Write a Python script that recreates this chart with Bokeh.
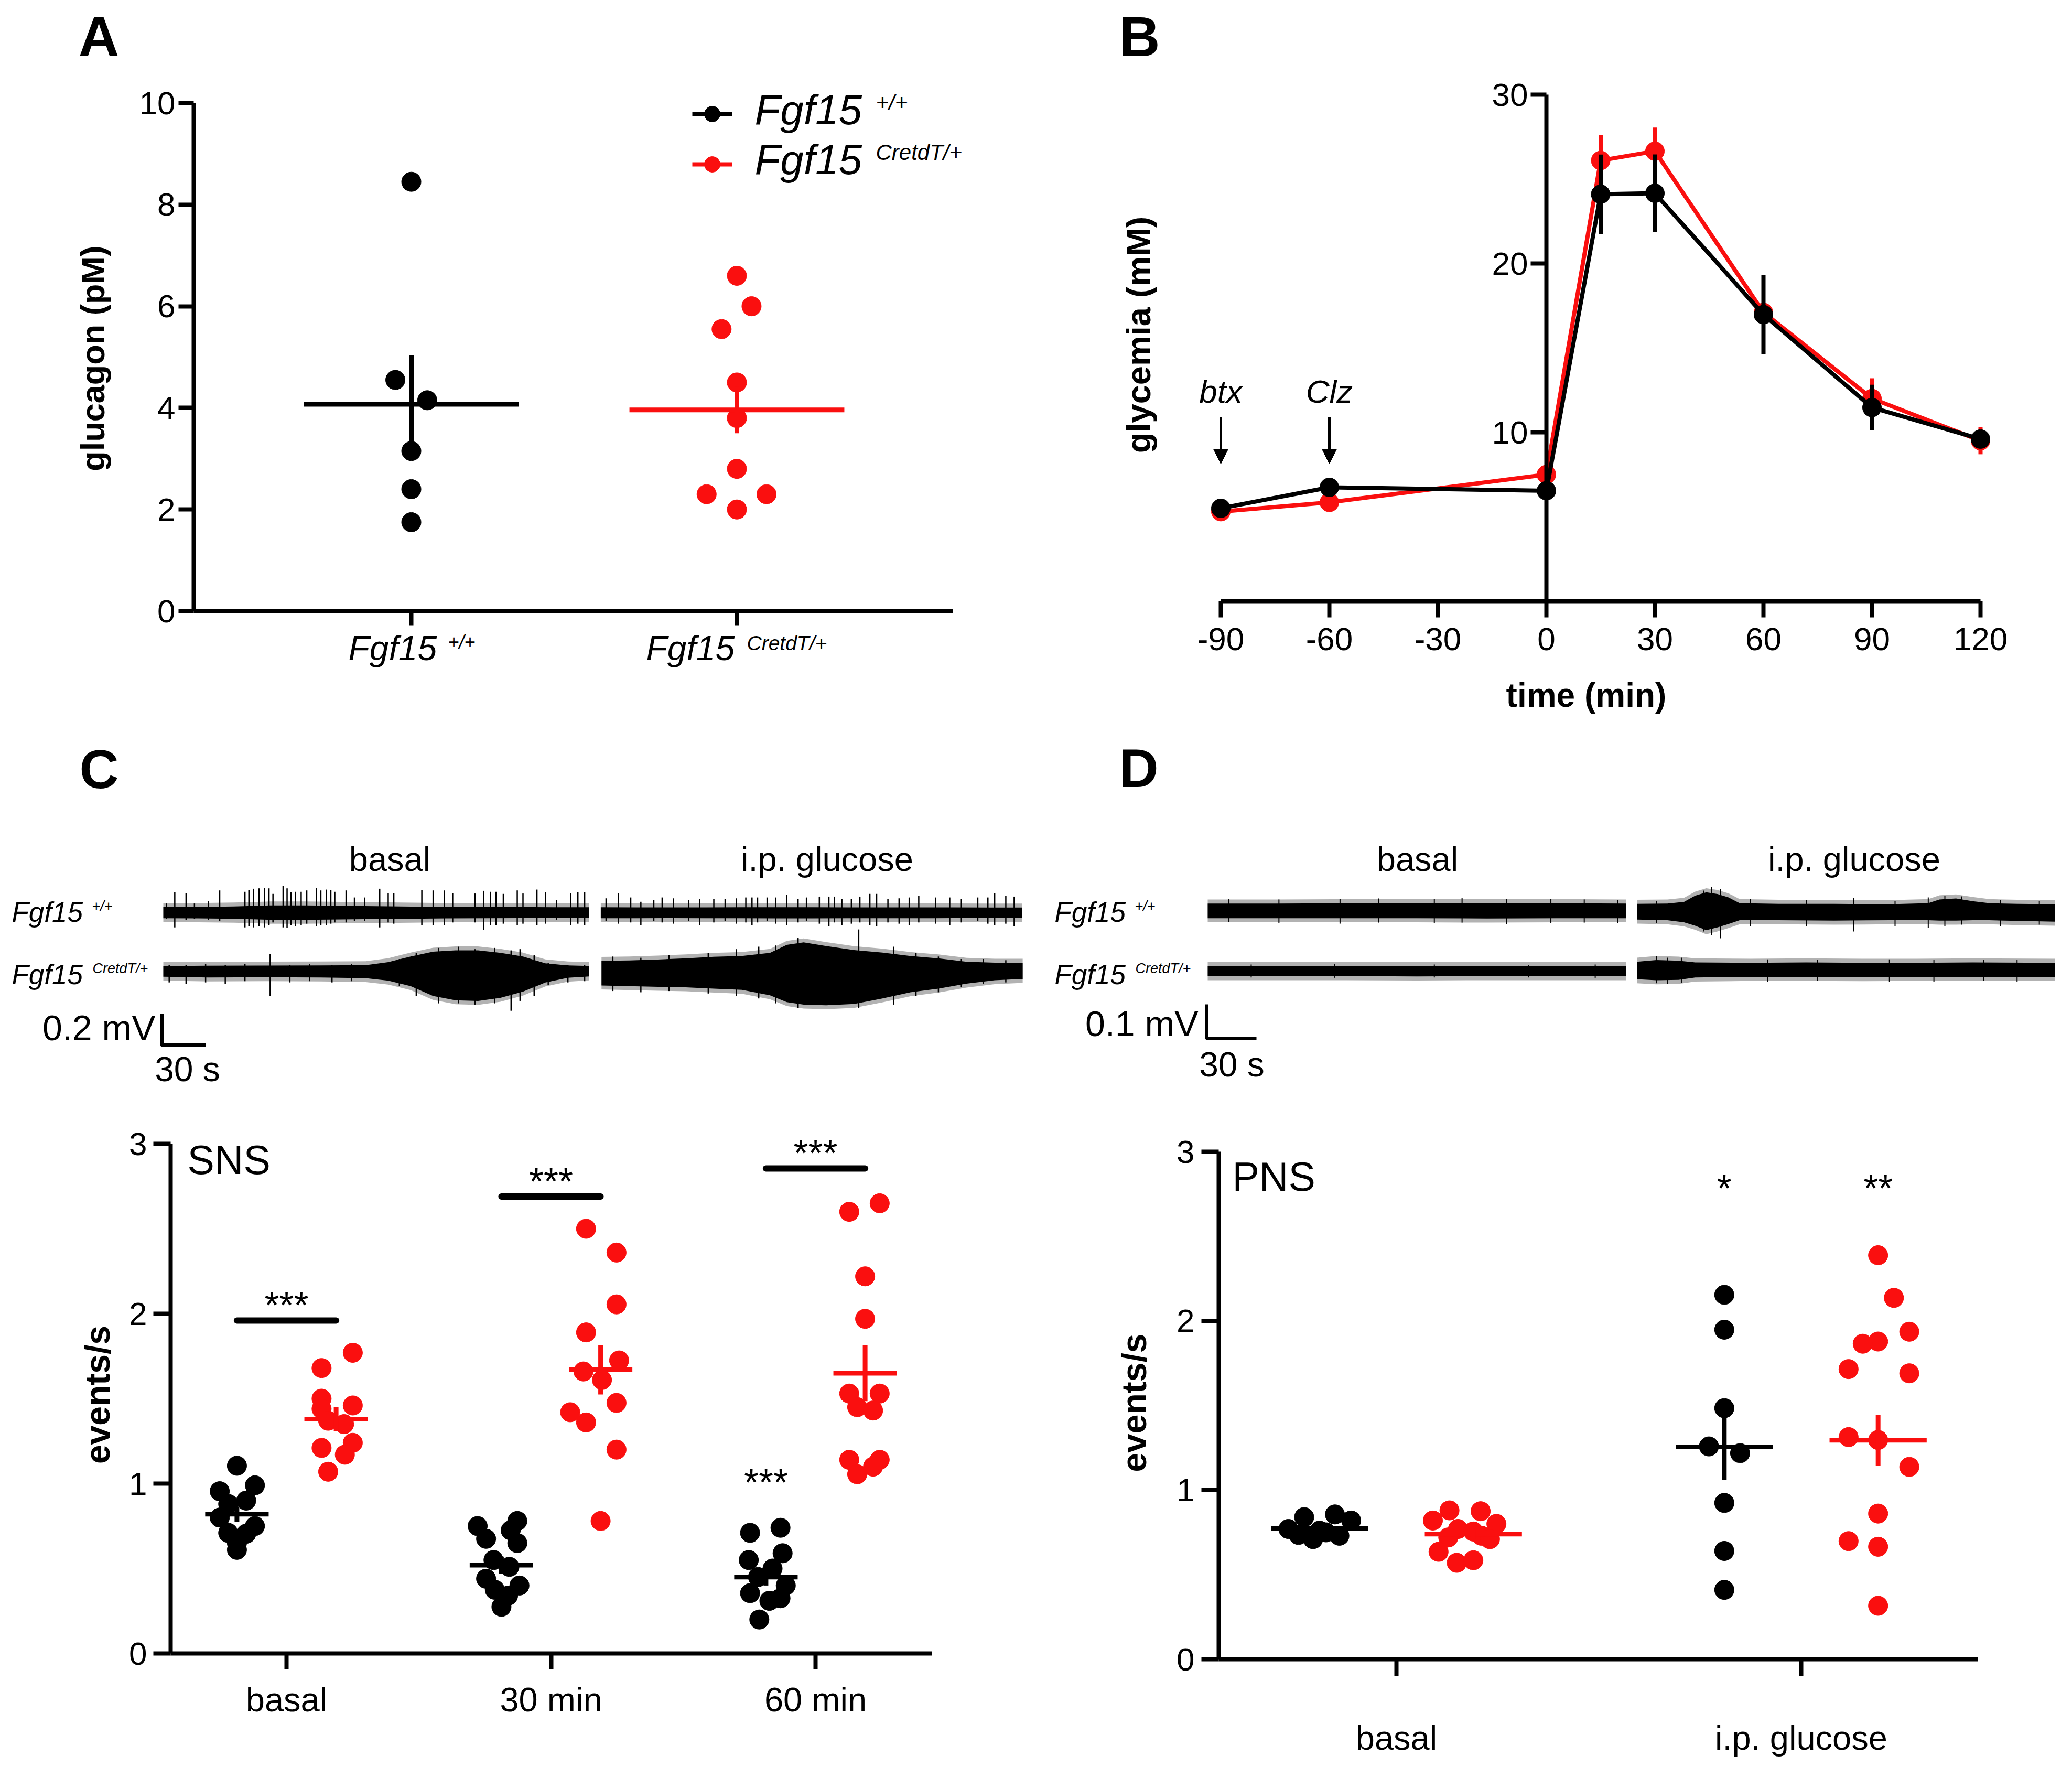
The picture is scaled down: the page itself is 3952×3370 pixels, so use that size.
import numpy as np
from types import SimpleNamespace
from bokeh.plotting import figure
from bokeh.layouts import column, row
from bokeh.models import Range1d, Label, Arrow, NormalHead, FixedTicker
from bokeh.embed import file_html
from bokeh.resources import INLINE

FONT = "Liberation Sans"
BLK = "#000000"
RED = "#FA0F0F"

# ======================= DATA =======================
# ---- Panel A : plasma glucagon ----
A_yticks = [0, 2, 4, 6, 8, 10]
A_wt = [8.45, 4.55, 4.15, 3.15, 2.40, 1.75]
A_wt_dx = [0, -0.049, 0.049, 0, 0, 0]
A_cre = [6.60, 6.00, 5.55, 4.50, 3.80, 2.80, 2.30, 2.30, 2.00]
A_cre_dx = [0, 0.045, -0.047, 0, 0, 0, -0.093, 0.091, 0]
A_mean = [4.07, 3.96]
A_sem = [0.97, 0.46]

# ---- Panel B : glycemia time course ----
B_xticks = [-90, -60, -30, 0, 30, 60, 90, 120]
B_yticks = [10, 20, 30]
B_t = [-90, -60, 0, 15, 30, 60, 90, 120]
B_wt = [5.50, 6.74, 6.54, 24.10, 24.16, 16.97, 11.47, 9.60]
B_wt_err = [0.20, 0.25, 0.30, 2.35, 2.30, 2.35, 1.35, 0.50]
B_cre = [5.30, 5.85, 7.50, 26.10, 26.65, 17.10, 12.00, 9.50]
B_cre_err = [0.30, 0.30, 0.30, 1.50, 1.40, 0.50, 1.20, 0.80]
B_arrow_t = [-90, -60]
B_arrow_text = ["btx", "Clz"]

# ---- Panel C traces (SNS), readings in mV, times in s ----
C_GAIN = 235.0 / 300.0   # readings were taken at 235 px/mV; the 0.2 mV bar gives 300 px/mV
c1b_t = [0, 24, 48, 72, 97, 121, 145, 169, 193, 218, 242, 266, 290]
c1b_up = [0.046, 0.046, 0.050, 0.058, 0.058, 0.055, 0.052, 0.049, 0.046, 0.045, 0.045, 0.044, 0.044]
c1b_dn = [0.046, 0.047, 0.050, 0.058, 0.058, 0.055, 0.052, 0.050, 0.047, 0.046, 0.045, 0.045, 0.045]
c1g_t = [298, 322, 346, 370, 394, 418, 442, 466, 490, 514, 538, 562, 585]
c1g_up = [0.044, 0.043, 0.043, 0.043, 0.044, 0.044, 0.044, 0.043, 0.043, 0.043, 0.043, 0.042, 0.042]
c1g_dn = [0.046, 0.046, 0.045, 0.046, 0.046, 0.047, 0.047, 0.046, 0.046, 0.046, 0.045, 0.045, 0.045]
c2b_t = [0, 30.8, 69, 107.3, 137.9, 153.2, 168.5, 183.8, 199.1, 214.4, 229.7, 245, 260.3, 275.6, 290]
c2b_up = [0.043, 0.046, 0.047, 0.048, 0.050, 0.075, 0.120, 0.160, 0.170, 0.170, 0.150, 0.120, 0.065, 0.048, 0.044]
c2b_dn = [0.044, 0.050, 0.048, 0.050, 0.055, 0.075, 0.120, 0.200, 0.235, 0.240, 0.215, 0.165, 0.090, 0.052, 0.042]
c2g_t = [298.5, 317.6, 336.8, 355.9, 375, 394.1, 413.3, 424.7, 436.2, 451.5, 470.6, 489.8, 508.9, 528, 547.1, 566.3, 585.4]
c2g_up = [0.085, 0.088, 0.096, 0.105, 0.118, 0.125, 0.150, 0.215, 0.235, 0.205, 0.172, 0.152, 0.125, 0.105, 0.078, 0.070, 0.070]
c2g_dn = [0.115, 0.120, 0.125, 0.130, 0.140, 0.150, 0.195, 0.250, 0.270, 0.275, 0.265, 0.220, 0.170, 0.140, 0.100, 0.072, 0.062]
c1b_spk_t = [2.1, 7.8, 15.5, 21.2, 30.8, 38.4, 55.6, 58.3, 61.4, 65.2, 69.0, 72.0, 74.7, 81.6, 84.3, 87.0, 90.0,
             93.9, 97.7, 104.2, 107.3, 111.1, 114.1, 116.8, 124.5, 130.2, 137.1, 147.4, 153.2, 157.0, 176.1,
             183.8, 191.4, 197.1, 212.4, 218.2, 222.8, 226.6, 231.6, 241.1, 245.0, 254.5, 260.3, 267.9, 277.5,
             282.4, 287.0]
c1b_spk_up = [0.074, 0.166, 0.159, 0.074, 0.095, 0.180, 0.169, 0.183, 0.194, 0.197, 0.200, 0.197, 0.152, 0.216,
              0.197, 0.166, 0.169, 0.169, 0.180, 0.200, 0.180, 0.187, 0.183, 0.169, 0.180, 0.123, 0.123, 0.194,
              0.159, 0.159, 0.183, 0.180, 0.180, 0.159, 0.155, 0.177, 0.169, 0.169, 0.152, 0.180, 0.155, 0.187,
              0.166, 0.102, 0.159, 0.166, 0.166]
c1b_spk_dn = [0.05, 0.12, 0.06, 0.05, 0.06, 0.07, 0.12, 0.11, 0.12, 0.11, 0.12, 0.10, 0.08, 0.12, 0.125, 0.10,
              0.11, 0.10, 0.09, 0.11, 0.10, 0.10, 0.09, 0.08, 0.08, 0.07, 0.07, 0.12, 0.08, 0.09, 0.10, 0.10,
              0.10, 0.08, 0.08, 0.14, 0.10, 0.10, 0.09, 0.10, 0.09, 0.10, 0.09, 0.06, 0.10, 0.09, 0.10]
c1g_spk_t = [301.6, 310.0, 318.4, 325.3, 334.1, 339.8, 347.5, 357.8, 365.4, 375.0, 382.7, 390.3, 396.8, 401.0,
             404.8, 411.3, 417.1, 424.7, 432.4, 438.1, 446.9, 453.4, 457.2, 462.2, 468.7, 474.5, 481.3, 485.9,
             493.6, 501.2, 508.1, 514.6, 526.1, 535.7, 543.3, 554.8, 561.7, 566.3, 573.9, 579.6]
c1g_spk_up = [0.116, 0.159, 0.123, 0.088, 0.102, 0.123, 0.116, 0.102, 0.109, 0.109, 0.109, 0.116, 0.123, 0.123,
              0.123, 0.123, 0.123, 0.145, 0.109, 0.123, 0.130, 0.130, 0.130, 0.109, 0.109, 0.130, 0.152, 0.152,
              0.109, 0.116, 0.123, 0.138, 0.123, 0.123, 0.109, 0.123, 0.123, 0.159, 0.138, 0.130]
c1g_spk_dn = [0.07, 0.09, 0.08, 0.10, 0.07, 0.08, 0.09, 0.07, 0.10, 0.08, 0.07, 0.09, 0.08, 0.10, 0.08, 0.07,
              0.09, 0.10, 0.08, 0.07, 0.09, 0.11, 0.08, 0.10, 0.09, 0.08, 0.10, 0.11, 0.08, 0.09, 0.10, 0.08,
              0.09, 0.10, 0.08, 0.07, 0.09, 0.10, 0.09, 0.11]
c2b_spk_t = [4.0, 15.5, 28.8, 42.2, 55.6, 72.8, 86.2, 99.6, 114.9, 128.3, 160.8, 172.3, 187.6, 201.0, 212.4,
             225.8, 236.9, 243.0, 252.6, 262.2, 275.6, 287.0]
c2b_spk_up = [0.05, 0.05, 0.06, 0.05, 0.06, 0.142, 0.05, 0.06, 0.05, 0.06, 0.10, 0.15, 0.19, 0.20, 0.18, 0.19,
              0.17, 0.18, 0.13, 0.07, 0.05, 0.05]
c2b_spk_dn = [0.09, 0.10, 0.09, 0.10, 0.08, 0.20, 0.09, 0.08, 0.09, 0.08, 0.12, 0.20, 0.26, 0.26, 0.27, 0.26,
              0.32, 0.24, 0.20, 0.11, 0.09, 0.08]
c2g_spk_t = [306.2, 325.3, 344.4, 371.2, 390.3, 405.6, 417.1, 432.4, 473.7, 497.4, 512.7, 528.0, 543.3, 558.6, 573.9]
c2g_spk_up = [0.12, 0.11, 0.13, 0.15, 0.18, 0.20, 0.21, 0.27, 0.34, 0.20, 0.15, 0.12, 0.10, 0.10, 0.09]
c2g_spk_dn = [0.16, 0.17, 0.16, 0.18, 0.20, 0.22, 0.26, 0.30, 0.30, 0.27, 0.20, 0.17, 0.13, 0.10, 0.09]

# ---- Panel D traces (PNS), mV, s ----
d1b_t = [0, 42, 84, 126, 168, 210, 252]
d1b_up = [0.022, 0.022, 0.023, 0.023, 0.024, 0.023, 0.022]
d1b_dn = [0.021, 0.021, 0.021, 0.021, 0.022, 0.021, 0.021]
d1g_t = [258.5, 276.9, 286.9, 293.6, 300.3, 307, 313.7, 320.4, 343.8, 377.2, 410.6, 434, 440.7, 450.7, 460.8, 470.8, 487.5, 510.2]
d1g_up = [0.021, 0.022, 0.027, 0.045, 0.055, 0.050, 0.040, 0.023, 0.021, 0.021, 0.020, 0.023, 0.034, 0.037, 0.029, 0.023, 0.021, 0.020]
d1g_dn = [0.025, 0.027, 0.033, 0.043, 0.056, 0.048, 0.038, 0.027, 0.027, 0.028, 0.027, 0.027, 0.028, 0.028, 0.027, 0.027, 0.029, 0.031]
d2b_t = [0, 42, 84, 126, 168, 210, 252]
d2b_up = [0.015, 0.015, 0.016, 0.015, 0.016, 0.015, 0.015]
d2b_dn = [0.014, 0.014, 0.014, 0.015, 0.014, 0.014, 0.014]
d2g_t = [258.5, 270.2, 283.6, 293.6, 327, 360.5, 393.9, 427.3, 460.8, 510.2]
d2g_up = [0.028, 0.033, 0.031, 0.026, 0.025, 0.026, 0.025, 0.025, 0.026, 0.025]
d2g_dn = [0.023, 0.026, 0.025, 0.018, 0.016, 0.016, 0.017, 0.016, 0.016, 0.016]
d1b_spk_t = [12.8, 42.9, 79.7, 103.1, 136.5, 153.2, 180.0, 206.7, 226.8, 246.8]
d1b_spk_up = [0.035, 0.034, 0.036, 0.037, 0.035, 0.038, 0.036, 0.035, 0.034, 0.033]
d1b_spk_dn = [0.033, 0.035, 0.037, 0.034, 0.036, 0.034, 0.038, 0.035, 0.034, 0.036]
d1g_spk_t = [270.2, 298.6, 303.6, 308.7, 327.0, 360.5, 388.9, 414.0, 434.0, 444.0, 454.1, 477.5, 500.9]
d1g_spk_up = [0.030, 0.060, 0.070, 0.065, 0.035, 0.033, 0.038, 0.030, 0.040, 0.045, 0.043, 0.032, 0.030]
d1g_spk_dn = [0.035, 0.060, 0.070, 0.080, 0.045, 0.045, 0.060, 0.045, 0.050, 0.045, 0.040, 0.045, 0.040]
d2b_spk_t = [26.2, 76.3, 136.5, 193.3, 233.4]
d2b_spk_up = [0.020, 0.021, 0.020, 0.019, 0.020]
d2b_spk_dn = [0.018, 0.019, 0.018, 0.018, 0.019]
d2g_spk_t = [270.2, 276.9, 285.3, 337.1, 367.2, 410.6, 437.4, 467.5, 487.5]
d2g_spk_up = [0.045, 0.040, 0.040, 0.035, 0.034, 0.035, 0.033, 0.034, 0.033]
d2g_spk_dn = [0.035, 0.037, 0.034, 0.030, 0.028, 0.030, 0.030, 0.028, 0.030]

# ---- Panel C bottom : SNS firing ----
sns_cats = ["basal", "30 min", "60 min"]
sns_yticks = [0, 1, 2, 3]
sns_wt_basal = [1.105, 0.99, 0.955, 0.90, 0.88, 0.80, 0.75, 0.71, 0.705, 0.65, 0.61]
sns_wt_basal_dx = [0, 0.068, -0.065, 0.035, -0.033, -0.065, 0.068, -0.033, 0.035, 0, 0]
sns_cre_basal = [1.77, 1.68, 1.50, 1.46, 1.44, 1.37, 1.35, 1.24, 1.21, 1.17, 1.07]
sns_cre_basal_dx = [0.063, -0.055, -0.055, 0.063, -0.055, -0.03, 0.03, 0.063, -0.055, 0.033, -0.03]
sns_wt_30 = [0.78, 0.75, 0.725, 0.675, 0.65, 0.55, 0.51, 0.44, 0.40, 0.375, 0.34, 0.275]
sns_wt_30_dx = [0.06, -0.09, 0.035, -0.058, 0.06, -0.03, 0.03, -0.058, 0.068, -0.025, 0.025, 0]
sns_cre_30 = [2.50, 2.36, 2.055, 1.89, 1.725, 1.66, 1.61, 1.475, 1.42, 1.36, 1.20, 0.78]
sns_cre_30_dx = [-0.055, 0.06, 0.06, -0.055, 0.07, -0.065, 0.005, 0.06, -0.115, -0.055, 0.06, 0]
sns_wt_60 = [0.74, 0.71, 0.59, 0.55, 0.50, 0.45, 0.40, 0.355, 0.325, 0.31, 0.20]
sns_wt_60_dx = [0.055, -0.06, 0.063, -0.065, 0.025, -0.03, 0.075, -0.06, 0.055, 0.013, -0.025]
sns_cre_60 = [2.65, 2.60, 2.22, 1.97, 1.53, 1.53, 1.45, 1.43, 1.14, 1.14, 1.10, 1.055]
sns_cre_60_dx = [0.055, -0.06, 0, 0, -0.06, 0.055, -0.03, 0.03, -0.06, 0.055, 0.03, -0.03]
sns_wt_mean = [0.82, 0.52, 0.45]
sns_wt_sem = [0.045, 0.05, 0.05]
sns_cre_mean = [1.38, 1.67, 1.65]
sns_cre_sem = [0.07, 0.145, 0.165]
sns_sig_y = [1.96, 2.69, 2.855]
sns_sig_text = ["***", "***", "***"]
sns_wt60_star_y = 0.93

# ---- Panel D bottom : PNS firing ----
pns_cats = ["basal", "i.p. glucose"]
pns_yticks = [0, 1, 2, 3]
pns_wt_basal = [0.856, 0.84, 0.82, 0.77, 0.76, 0.75, 0.735, 0.73, 0.71]
pns_wt_basal_dx = [0.038, -0.038, 0.078, -0.077, 0, 0.016, -0.052, 0.049, -0.016]
pns_cre_basal = [0.88, 0.875, 0.82, 0.80, 0.77, 0.755, 0.73, 0.72, 0.71, 0.635, 0.57, 0.585]
pns_cre_basal_dx = [-0.059, 0.018, -0.1, 0.057, -0.038, 0, 0.02, -0.062, 0.041, -0.086, -0.041, 0]
pns_wt_glu = [2.154, 1.948, 1.484, 1.258, 1.218, 0.924, 0.64, 0.41]
pns_wt_glu_dx = [0, 0, 0, -0.038, 0.039, 0, 0, 0]
pns_cre_glu = [2.388, 2.136, 1.936, 1.878, 1.865, 1.715, 1.69, 1.313, 1.296, 1.137, 0.861, 0.698, 0.665, 0.316]
pns_cre_glu_dx = [0, 0.039, 0.077, 0, -0.038, -0.073, 0.077, -0.073, 0, 0.077, 0, -0.073, 0, 0]
pns_wt_mean = [0.775, 1.255]
pns_wt_sem = [0.02, 0.195]
pns_cre_mean = [0.74, 1.295]
pns_cre_sem = [0.03, 0.15]
pns_star_y = 2.706
pns_star_text = ["*", "**"]

# ======================= HELPERS =======================
def make_fig(origin, size, frame, xmap, ymap, axes=True):
    """frame: page px (left, right, top, bottom); xmap/ymap: two (value, page px) anchors."""
    ox, oy = origin
    w, h = size
    fl, fr, ft, fb = frame
    (xv0, xp0), (xv1, xp1) = xmap
    (yv0, yp0), (yv1, yp1) = ymap
    sx = (xp1 - xp0) / (xv1 - xv0)
    sy = (yp1 - yp0) / (yv1 - yv0)
    xr = (xv0 + (fl - xp0) / sx, xv0 + (fr - xp0) / sx)
    yr = (yv0 + (fb - yp0) / sy, yv0 + (ft - yp0) / sy)
    kw = dict(width=w, height=h, x_range=Range1d(*xr), y_range=Range1d(*yr),
              output_backend="svg", toolbar_location=None, title=None,
              min_border_left=fl - ox, min_border_right=ox + w - fr,
              min_border_top=ft - oy, min_border_bottom=oy + h - fb,
              outline_line_color=None, background_fill_color="white",
              border_fill_color="white", frame_align=False)
    if not axes:
        kw.update(x_axis_location=None, y_axis_location=None)
    p = figure(**kw)
    p.grid.visible = False
    m = SimpleNamespace(
        p=p,
        X=lambda px: xv0 + (px - xp0) / sx,      # page px -> data
        Y=lambda py: yv0 + (py - yp0) / sy,
        PY=lambda y: yp0 + (y - yv0) * sy,       # data -> page px
    )
    return m


def style_axis(ax, ticks, tick_out, standoff, size=62, lw=8):
    ax.ticker = FixedTicker(ticks=ticks)
    ax.axis_line_width = lw
    ax.axis_line_color = "black"
    ax.major_tick_line_width = lw
    ax.major_tick_line_color = "black"
    ax.major_tick_out = tick_out
    ax.major_tick_in = 0
    ax.minor_tick_line_color = None
    ax.major_label_text_font = FONT
    ax.major_label_text_font_size = f"{size}px"
    ax.major_label_text_color = "black"
    ax.major_label_standoff = standoff


def axis_title(ax, text, size, standoff):
    ax.axis_label = text
    ax.axis_label_text_font = FONT
    ax.axis_label_text_font_size = f"{size}px"
    ax.axis_label_text_font_style = "bold"
    ax.axis_label_text_color = "black"
    ax.axis_label_standoff = standoff


def label(m, px, py, text, size, style="normal", align="left", rotate=False):
    """Text whose baseline sits at page px (px, py); rotated texts are centred on (px, py)."""
    if rotate:
        yc, ang = py, np.pi / 2
    else:
        yc, ang = py - 0.35 * size, 0.0
    m.p.add_layout(Label(x=m.X(px), y=m.Y(yc), text=text, text_font=FONT,
                         text_font_size=f"{size}px", text_font_style=style,
                         text_align="center" if rotate else align, text_baseline="middle",
                         angle=ang, text_color="black"))


def dlabel(m, x, y, text, size, dy_px=0, style="normal"):
    """Centred text whose baseline sits dy_px above the data point (x, y)."""
    py = m.PY(y) - dy_px - 0.35 * size
    m.p.add_layout(Label(x=x, y=m.Y(py), text=text, text_font=FONT,
                         text_font_size=f"{size}px", text_font_style=style,
                         text_align="center", text_baseline="middle", text_color="black"))


def dots(p, xc, vals, dx, color, size=37):
    p.scatter(x=[xc + d for d in dx], y=vals, size=size, fill_color=color, line_color=color)


def meansem(p, xc, mval, s, half, color, lw=9):
    p.segment(x0=[xc - half], y0=[mval], x1=[xc + half], y1=[mval], line_width=lw, line_color=color)
    p.segment(x0=[xc], y0=[mval - s], x1=[xc], y1=[mval + s], line_width=lw, line_color=color)


def trace(p, t, up, dn, base, gain=1.0, fuzz=0.0):
    up = np.asarray(up) * gain
    dn = np.asarray(dn) * gain
    if fuzz > 0:   # faint halo standing for the dense small noise deflections
        p.varea(x=t, y1=base - dn - fuzz, y2=base + up + fuzz, fill_color="black", fill_alpha=0.3)
    p.varea(x=t, y1=base - dn, y2=base + up, fill_color="black")


def spikes(p, t, up, dn, base, gain=1.0, lw=2.5):
    up = np.asarray(up) * gain
    dn = np.asarray(dn) * gain
    p.segment(x0=t, y0=base - dn, x1=t, y1=base + up, line_color="black", line_width=lw)


# ======================= PANEL A =======================
mA = make_fig((0, 0), (1976, 1400), (130, 1976, 0, 1300), ((1, 784), (2, 1405)), ((0, 1165), (10, 196)))
pA = mA.p
ya = pA.yaxis[0]
style_axis(ya, A_yticks, 29, 6)
ya.fixed_location = mA.X(369)
ya.bounds = (0, 10)
xa = pA.xaxis[0]
style_axis(xa, [1, 2], 27, 6, size=1)
xa.major_label_overrides = {1: "", 2: ""}
xa.fixed_location = 0
xa.bounds = (mA.X(369), mA.X(1817))

dots(pA, 1, A_wt, A_wt_dx, BLK)
dots(pA, 2, A_cre, A_cre_dx, RED)
meansem(pA, 1, A_mean[0], A_sem[0], 0.33, BLK)
meansem(pA, 2, A_mean[1], A_sem[1], 0.33, RED)

label(mA, 149, 107, "A", 108, "bold")
label(mA, 176, 683, "glucagon (pM)", 63, "bold", rotate=True)
label(mA, 664, 1259, "Fgf15", 66, "italic")
label(mA, 854, 1237, "+/+", 36, "italic")
label(mA, 1232, 1259, "Fgf15", 66, "italic")
label(mA, 1424, 1240, "CretdT/+", 39, "italic")
# legend
for ly, col, sup, sb, tb in [(217, BLK, "+/+", 210, 237), (313, RED, "CretdT/+", 305, 332)]:
    pA.line(x=[mA.X(1320), mA.X(1396)], y=[mA.Y(ly)] * 2, line_width=8, line_color=col)
    pA.scatter(x=[mA.X(1358)], y=[mA.Y(ly)], size=30, fill_color=col, line_color=col)
    label(mA, 1439, tb, "Fgf15", 80, "italic")
    label(mA, 1670, sb, sup, 42, "italic")

# ======================= PANEL B =======================
mB = make_fig((1976, 0), (1968, 1400), (2106, 3944, 0, 1146),
              ((0, 2949), (120, 2949 + 120 * 6.9)), ((0, 1146), (30, 180)))
pB = mB.p
yb = pB.yaxis[0]
style_axis(yb, B_yticks, 30, 5)
yb.fixed_location = 0
yb.bounds = (0, 30)
xb = pB.xaxis[0]
style_axis(xb, B_xticks, 31, 20)
xb.major_label_overrides = {t: str(t) for t in B_xticks}
xb.bounds = (-90, 120)
axis_title(xb, "time (min)", 64, 47)

for vals, err, col in [(B_cre, B_cre_err, RED), (B_wt, B_wt_err, BLK)]:
    pB.line(x=B_t, y=vals, line_width=8, line_color=col)
    pB.segment(x0=B_t, y0=[v - e for v, e in zip(vals, err)], x1=B_t,
               y1=[v + e for v, e in zip(vals, err)], line_width=8, line_color=col)
    pB.scatter(x=B_t, y=vals, size=36, fill_color=col, line_color=col)

for t, txt in zip(B_arrow_t, B_arrow_text):
    pB.add_layout(Arrow(end=NormalHead(size=28, fill_color="black", line_color="black"),
                        x_start=t, y_start=mB.Y(795), x_end=t, y_end=mB.Y(884),
                        line_width=5, line_color="black"))
    dlabel(mB, t, mB.Y(768), txt, 62, style="italic")

label(mB, 2134, 107, "B", 108, "bold")
label(mB, 2171, 638, "glycemia (mM)", 65, "bold", rotate=True)

# ======================= PANEL C traces =======================
mCt = make_fig((0, 1400), (1976, 700), (0, 1976, 1400, 2100),
               ((0, 311), (30, 311 + 30 * 2.8)), ((0, 1740), (0.2, 1740 - 60)), axes=False)
pCt = mCt.p
c_row2 = mCt.Y(1852)
for t, u, d, base in [(c1b_t, c1b_up, c1b_dn, 0.0), (c1g_t, c1g_up, c1g_dn, 0.0),
                      (c2b_t, c2b_up, c2b_dn, c_row2), (c2g_t, c2g_up, c2g_dn, c_row2)]:
    trace(pCt, t, u, d, base, C_GAIN, fuzz=0.025)
for t, u, d, base in [(c1b_spk_t, c1b_spk_up, c1b_spk_dn, 0.0), (c1g_spk_t, c1g_spk_up, c1g_spk_dn, 0.0),
                      (c2b_spk_t, c2b_spk_up, c2b_spk_dn, c_row2), (c2g_spk_t, c2g_spk_up, c2g_spk_dn, c_row2)]:
    spikes(pCt, t, u, d, base, C_GAIN)
cx0, cy0 = mCt.X(308), mCt.Y(1993)
pCt.line(x=[cx0, cx0, cx0 + 30], y=[cy0 + 0.2, cy0, cy0], line_width=7, line_color="black")
label(mCt, 296, 1983, "0.2 mV", 68, align="right")
label(mCt, 357, 2062, "30 s", 66, align="center")
label(mCt, 151, 1503, "C", 104, "bold")
label(mCt, 743, 1661, "basal", 65, align="center")
label(mCt, 1577, 1661, "i.p. glucose", 65, align="center")
label(mCt, 22, 1758, "Fgf15", 53, "italic")
label(mCt, 175, 1737, "+/+", 27, "italic")
label(mCt, 22, 1877, "Fgf15", 53, "italic")
label(mCt, 176, 1856, "CretdT/+", 27, "italic")

# ======================= PANEL D traces =======================
mDt = make_fig((1976, 1400), (1968, 700), (1976, 3944, 1400, 2100),
               ((0, 2303), (30, 2303 + 95)), ((0, 1737), (0.1, 1737 - 65)), axes=False)
pDt = mDt.p
d_row2 = mDt.Y(1852)
for t, u, d, base in [(d1b_t, d1b_up, d1b_dn, 0.0), (d1g_t, d1g_up, d1g_dn, 0.0),
                      (d2b_t, d2b_up, d2b_dn, d_row2), (d2g_t, d2g_up, d2g_dn, d_row2)]:
    trace(pDt, t, u, d, base, fuzz=0.012)
for t, u, d, base in [(d1b_spk_t, d1b_spk_up, d1b_spk_dn, 0.0), (d1g_spk_t, d1g_spk_up, d1g_spk_dn, 0.0),
                      (d2b_spk_t, d2b_spk_up, d2b_spk_dn, d_row2), (d2g_spk_t, d2g_spk_up, d2g_spk_dn, d_row2)]:
    spikes(pDt, t, u, d, base, lw=2)
dx0, dy0 = mDt.X(2301), mDt.Y(1980)
pDt.line(x=[dx0, dx0, dx0 + 30], y=[dy0 + 0.1, dy0, dy0], line_width=7, line_color="black")
label(mDt, 2285, 1975, "0.1 mV", 68, align="right")
label(mDt, 2349, 2053, "30 s", 66, align="center")
label(mDt, 2134, 1501, "D", 104, "bold")
label(mDt, 2703, 1661, "basal", 65, align="center")
label(mDt, 3536, 1661, "i.p. glucose", 65, align="center")
label(mDt, 2011, 1758, "Fgf15", 53, "italic")
label(mDt, 2164, 1737, "+/+", 27, "italic")
label(mDt, 2011, 1877, "Fgf15", 53, "italic")
label(mDt, 2165, 1856, "CretdT/+", 27, "italic")

# ======================= PANEL C bottom (SNS) =======================
mCb = make_fig((0, 2100), (1976, 1262), (325, 1976, 2166, 3153),
               ((0, 546), (2, 546 + 2 * 504.5)), ((0, 3153), (3, 2181)))
pCb = mCb.p
yc = pCb.yaxis[0]
style_axis(yc, sns_yticks, 33, 12)
yc.bounds = (0, 3)
axis_title(yc, "events/s", 66, 20)
xc = pCb.xaxis[0]
style_axis(xc, [0, 1, 2], 30, 21, size=65)
xc.major_label_overrides = {i: c for i, c in enumerate(sns_cats)}
xc.bounds = (mCb.X(325), mCb.X(1777))

GOFF = 0.1875
sns_wt = [(sns_wt_basal, sns_wt_basal_dx), (sns_wt_30, sns_wt_30_dx), (sns_wt_60, sns_wt_60_dx)]
sns_cre = [(sns_cre_basal, sns_cre_basal_dx), (sns_cre_30, sns_cre_30_dx), (sns_cre_60, sns_cre_60_dx)]
for i in range(3):
    dots(pCb, i - GOFF, sns_wt[i][0], sns_wt[i][1], BLK)
    dots(pCb, i + GOFF, sns_cre[i][0], sns_cre[i][1], RED)
for i in range(3):
    meansem(pCb, i - GOFF, sns_wt_mean[i], sns_wt_sem[i], 0.12, BLK)
    meansem(pCb, i + GOFF, sns_cre_mean[i], sns_cre_sem[i], 0.12, RED)
    pCb.line(x=[i - GOFF, i + GOFF], y=[sns_sig_y[i]] * 2, line_width=12,
             line_color="black", line_cap="round")
    dlabel(mCb, i, sns_sig_y[i], sns_sig_text[i], 72, dy_px=4)
dlabel(mCb, 2 - GOFF, sns_wt60_star_y, "***", 72)
label(mCb, 357, 2238, "SNS", 77)

# ======================= PANEL D bottom (PNS) =======================
mDb = make_fig((1976, 2100), (1968, 1262), (2324, 3944, 2186, 3164),
               ((0, 2663), (1, 2663 + 772)), ((0, 3164), (3, 2196)))
pDb = mDb.p
yd = pDb.yaxis[0]
style_axis(yd, pns_yticks, 33, 13)
yd.bounds = (0, 3)
axis_title(yd, "events/s", 66, 41)
xd = pDb.xaxis[0]
style_axis(xd, [0, 1], 32, 81, size=65)
xd.major_label_overrides = {i: c for i, c in enumerate(pns_cats)}
xd.bounds = (mDb.X(2324), mDb.X(3772))

POFF = 0.19
pns_wt = [(pns_wt_basal, pns_wt_basal_dx), (pns_wt_glu, pns_wt_glu_dx)]
pns_cre = [(pns_cre_basal, pns_cre_basal_dx), (pns_cre_glu, pns_cre_glu_dx)]
for i in range(2):
    dots(pDb, i - POFF, pns_wt[i][0], pns_wt[i][1], BLK)
    dots(pDb, i + POFF, pns_cre[i][0], pns_cre[i][1], RED)
for i in range(2):
    meansem(pDb, i - POFF, pns_wt_mean[i], pns_wt_sem[i], 0.12, BLK)
    meansem(pDb, i + POFF, pns_cre_mean[i], pns_cre_sem[i], 0.12, RED)
dlabel(mDb, 1 - POFF, pns_star_y, pns_star_text[0], 72)
dlabel(mDb, 1 + POFF, pns_star_y, pns_star_text[1], 72)
label(mDb, 2350, 2270, "PNS", 77)

layout = column(row(pA, pB), row(pCt, pDt), row(pCb, pDb))
open("out.html", "w").write(file_html(layout, INLINE, "Fgf15 figure"))
